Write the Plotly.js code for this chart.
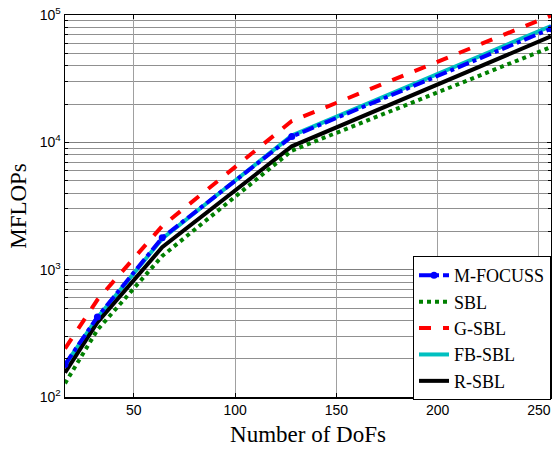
<!DOCTYPE html>
<html>
<head>
<meta charset="utf-8">
<script src="https://cdn.plot.ly/plotly-3.0.1.min.js"></script>
<style>html,body{margin:0;padding:0;background:#fff;}#chart{width:552px;height:451px;}</style>
</head>
<body>
<div id="chart"></div>
<script>
const dofs = [16, 32, 64, 128, 256];
const mfocuss = [180, 425, 1780, 11100, 78000];
const sbl = [128, 336, 1280, 8600, 56000];
const gsbl = [240, 580, 2200, 14700, 99000];
const fbsbl = [178, 420, 1750, 11300, 82000];
const rsbl = [155, 385, 1500, 9300, 68000];
const yMajor = [100, 1000, 10000, 100000];
const yMajorText = ['10<sup>2</sup>', '10<sup>3</sup>', '10<sup>4</sup>', '10<sup>5</sup>'];
const yMinor = [];
[100, 1000, 10000].forEach(b => { for (let k = 2; k <= 9; k++) yMinor.push(b * k); });
const xTicks = [50, 100, 150, 200, 250];

const SERIF = 'Liberation Serif';
const SANS = 'Liberation Sans';
const W = 4;
const traces = [
  {x: dofs, y: fbsbl, name: 'FB-SBL', mode: 'lines', line: {color: '#00c0c0', width: W}, legendrank: 4},
  {x: dofs, y: rsbl, name: 'R-SBL', mode: 'lines', line: {color: '#000000', width: W}, legendrank: 5},
  {x: dofs, y: sbl, name: 'SBL', mode: 'lines', line: {color: '#008000', width: W, dash: 'dot'}, legendrank: 2},
  {x: dofs, y: gsbl, name: 'G-SBL', mode: 'lines', line: {color: '#ff0000', width: W, dash: 'dash'}, legendrank: 3},
  {x: dofs, y: mfocuss, name: 'M-FOCUSS', mode: 'lines+markers', line: {color: '#0000ff', width: W, dash: 'dashdot'}, marker: {color: '#0000ff', size: 7}, legendrank: 1}
];

const layout = {
  width: 552, height: 451,
  font: {family: SERIF, color: '#000'},
  margin: {l: 65, r: 1, t: 15, b: 54},
  paper_bgcolor: '#fff', plot_bgcolor: '#fff',
  showlegend: true,
  legend: {
    x: 1, y: -0.008, xanchor: 'right', yanchor: 'bottom',
    bgcolor: '#fff', bordercolor: '#000', borderwidth: 1,
    font: {family: SERIF, size: 18, color: '#000'},
    tracegroupgap: 0, itemwidth: 30
  },
  xaxis: {
    range: [16, 256], tickmode: 'array', tickvals: xTicks,
    ticks: 'inside', ticklen: 4, tickcolor: '#000',
    showgrid: true, gridcolor: '#a0a0a0', gridwidth: 1,
    showline: true, linecolor: '#000', linewidth: 1.5, mirror: 'ticks',
    zeroline: false,
    tickfont: {family: SANS, size: 14, color: '#000'},
    title: {text: 'Number of DoFs', font: {family: SERIF, size: 23, color: '#000'}, standoff: 8}
  },
  yaxis: {
    type: 'log', range: [2, 5], tickmode: 'array', tickvals: yMajor, ticktext: yMajorText,
    ticks: 'inside', ticklen: 4, tickcolor: '#000',
    showgrid: true, gridcolor: '#808080', gridwidth: 1,
    showline: true, linecolor: '#000', linewidth: 1.5, mirror: 'ticks',
    zeroline: false,
    minor: {tickmode: 'array', tickvals: yMinor, ticks: 'inside', ticklen: 3, tickcolor: '#000', showgrid: true, gridcolor: '#909090', gridwidth: 1},
    tickfont: {family: SANS, size: 14, color: '#000'},
    title: {text: 'MFLOPs', font: {family: SERIF, size: 23, color: '#000'}, standoff: 6}
  }
};

Plotly.newPlot('chart', traces, layout, {displayModeBar: false, staticPlot: true});
</script>
</body>
</html>
